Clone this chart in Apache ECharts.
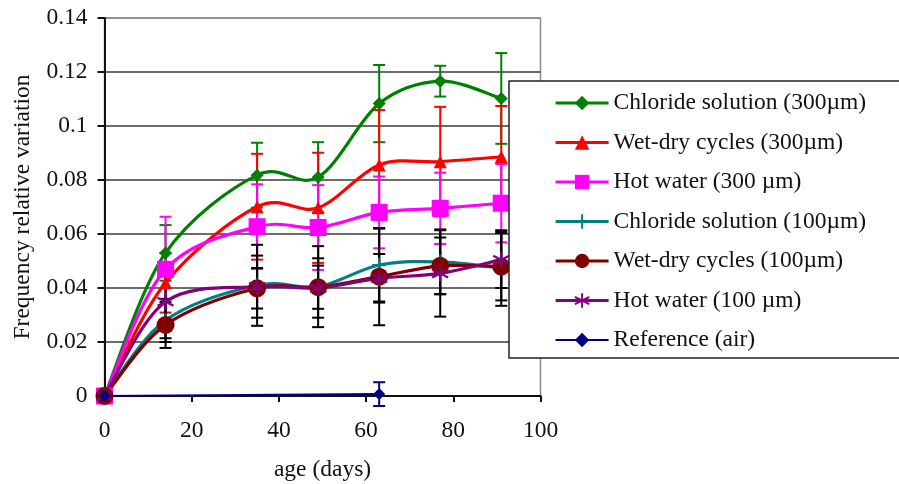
<!DOCTYPE html>
<html>
<head>
<meta charset="utf-8">
<script src="https://cdn.jsdelivr.net/npm/echarts@6.0.0/dist/echarts.min.js"></script>
<style>
  html, body { margin: 0; padding: 0; background: #fff; }
  #chart { width: 899px; height: 484px; }
</style>
</head>
<body>
<div id="chart"></div>
<script>
// Sample ages (days)
const days = [0, 14, 35, 49, 63, 77, 91];

// Mean frequency relative variation and error (±) for each exposure
const chloride300 = [0, 0.053, 0.0818, 0.081, 0.1083, 0.1166, 0.1102];
const chloride300Err = [0, 0.0103, 0.012, 0.013, 0.0143, 0.0057, 0.0168];

const wetDry300 = [0, 0.0419, 0.0701, 0.0697, 0.0856, 0.0868, 0.0886];
const wetDry300Err = [0, 0.011, 0.0196, 0.0204, 0.0203, 0.0203, 0.0188];

const hotWater300 = [0, 0.0469, 0.0627, 0.0624, 0.068, 0.0695, 0.0714];
const hotWater300Err = [0, 0.0195, 0.0157, 0.0157, 0.0133, 0.0132, 0.0145];

const chloride100 = [0, 0.028, 0.041, 0.0405, 0.0485, 0.0497, 0.0474];
const chloride100Err = [0, 0.008, 0.015, 0.015, 0.0135, 0.012, 0.014];

const wetDry100 = [0, 0.0263, 0.0399, 0.0403, 0.0442, 0.0482, 0.0479];
const wetDry100Err = [0, 0.0085, 0.0075, 0.008, 0.018, 0.0105, 0.0125];

const hotWater100 = [0, 0.0349, 0.0405, 0.04, 0.0436, 0.0454, 0.0505];
const hotWater100Err = [0, 0.0135, 0.0115, 0.011, 0.009, 0.016, 0.0105];

const refDays = [0, 63];
const reference = [0, 0.0007];
const referenceErr = [0, 0.0044];

const seriesNames = [
  'Chloride solution (300µm)',
  'Wet-dry cycles (300µm)',
  'Hot water (300 µm)',
  'Chloride solution (100µm)',
  'Wet-dry cycles (100µm)',
  'Hot water (100 µm)',
  'Reference (air)'
];

const xTicks = { min: 0, max: 100, interval: 20 };
const yTicks = { min: 0, max: 0.14, interval: 0.02 };

const FONT = 'Liberation Serif, Times New Roman, serif';
const ASTERISK = 'path://M0,-10L0,10M-8.66,-5L8.66,5M-8.66,5L8.66,-5';
const PLUS = 'path://M0,-10L0,10M-10,0L10,0';

const GREEN = '#008000', RED = '#ff0000', MAGENTA = '#ff00ff',
      TEAL = '#008080', MAROON = '#800000', PURPLE = '#800080', NAVY = '#000080';

function pairs(xs, ys) {
  return xs.map((x, i) => [x, ys[i]]);
}

// Markers only; the connecting curve is drawn by curveSeries
function markerSeries(name, xs, ys, color, symbol, size, strokeSymbol) {
  return {
    type: 'line',
    name: name,
    data: pairs(xs, ys),
    symbol: symbol,
    symbolSize: size,
    showAllSymbol: true,
    lineStyle: { color: color, width: 0, opacity: 0 },
    itemStyle: strokeSymbol
      ? { color: color, borderColor: color, borderWidth: 2.2 }
      : { color: color, borderWidth: 0 },
    emphasis: { disabled: true },
    z: 4
  };
}

// Smoothed connecting line (cardinal spline through the data points)
function curveSeries(xs, ys, color, width) {
  return {
    type: 'custom',
    data: [[xs[0], ys[0]]],
    silent: true,
    z: 3,
    renderItem: function (params, api) {
      const p = xs.map((x, i) => api.coord([x, ys[i]]));
      const n = p.length;
      let d = 'M' + p[0][0] + ',' + p[0][1];
      for (let i = 0; i < n - 1; i++) {
        const p0 = p[i - 1] || p[i];
        const p1 = p[i];
        const p2 = p[i + 1];
        const p3 = p[i + 2] || p[i + 1];
        const c1x = p1[0] + (p2[0] - p0[0]) / 6;
        const c1y = p1[1] + (p2[1] - p0[1]) / 6;
        const c2x = p2[0] - (p3[0] - p1[0]) / 6;
        const c2y = p2[1] - (p3[1] - p1[1]) / 6;
        d += 'C' + c1x + ',' + c1y + ' ' + c2x + ',' + c2y + ' ' + p2[0] + ',' + p2[1];
      }
      return {
        type: 'path',
        shape: { pathData: d },
        style: { fill: 'none', stroke: color, lineWidth: width, lineJoin: 'round', lineCap: 'round' }
      };
    }
  };
}

function errorSeries(xs, ys, errs, color) {
  const data = [];
  xs.forEach((x, i) => {
    if (errs[i] > 0) data.push([x, ys[i] - errs[i], ys[i] + errs[i]]);
  });
  return {
    type: 'custom',
    data: data,
    encode: { x: 0, y: [1, 2] },
    silent: true,
    z: 2,
    renderItem: function (params, api) {
      const lo = api.coord([api.value(0), api.value(1)]);
      const hi = api.coord([api.value(0), api.value(2)]);
      const w = 6;
      const st = { stroke: color, lineWidth: 2 };
      return {
        type: 'group',
        children: [
          { type: 'line', shape: { x1: lo[0], y1: lo[1], x2: hi[0], y2: hi[1] }, style: st },
          { type: 'line', shape: { x1: lo[0] - w, y1: lo[1], x2: lo[0] + w, y2: lo[1] }, style: st },
          { type: 'line', shape: { x1: hi[0] - w, y1: hi[1], x2: hi[0] + w, y2: hi[1] }, style: st }
        ]
      };
    }
  };
}

const legendColors = [GREEN, RED, MAGENTA, TEAL, MAROON, PURPLE, NAVY];
const legendWidths = [3.2, 3.2, 3.2, 3.2, 3.2, 3.2, 2];

const chart = echarts.init(document.getElementById('chart'), null, { renderer: 'canvas' });

const gridLineColors = ['#3a3a3a', '#3a3a3a', '#3a3a3a', '#3a3a3a', '#3a3a3a', '#3a3a3a', '#3a3a3a', '#8a8a8a'];

chart.setOption({
  animation: false,
  backgroundColor: '#ffffff',
  textStyle: { fontFamily: FONT },
  grid: {
    left: 104.5, right: 358.5, top: 18, bottom: 88,
    outerBoundsMode: 'none',
    containLabel: false,
    show: true, borderColor: '#8a8a8a', borderWidth: 1.5, backgroundColor: 'transparent'
  },
  // Legend frame, running off the right edge of the canvas
  graphic: [{
    type: 'rect',
    x: 509, y: 81,
    shape: { x: 0, y: 0, width: 440, height: 277 },
    style: { fill: '#ffffff', stroke: '#222', lineWidth: 1.5 },
    z: 9,
    silent: true
  }],
  xAxis: {
    type: 'value',
    min: xTicks.min, max: xTicks.max, interval: xTicks.interval,
    name: 'age (days)',
    nameLocation: 'middle',
    nameGap: 62,
    nameTextStyle: { fontFamily: FONT, fontSize: 23.5, color: '#111' },
    axisLine: { show: true, lineStyle: { color: '#111', width: 2 } },
    axisTick: { show: true, length: 6, lineStyle: { color: '#111', width: 2 } },
    axisLabel: { fontFamily: FONT, fontSize: 23.5, color: '#111', margin: 23 },
    splitLine: { show: false }
  },
  yAxis: {
    type: 'value',
    min: yTicks.min, max: yTicks.max, interval: yTicks.interval,
    name: 'Frequency relative variation',
    nameLocation: 'middle',
    nameGap: 70,
    nameTextStyle: { fontFamily: FONT, fontSize: 23.5, color: '#111' },
    axisLine: { show: true, lineStyle: { color: '#111', width: 2 } },
    axisTick: { show: true, length: 7, lineStyle: { color: '#111', width: 2 } },
    axisLabel: {
      fontFamily: FONT, fontSize: 23.5, color: '#111', margin: 17,
      formatter: v => (v === 0 ? '0' : String(+v.toFixed(2)))
    },
    splitLine: { show: true, lineStyle: { color: gridLineColors, width: 1.5 } }
  },
  legend: {
    data: seriesNames.map((name, i) => ({
      name: name,
      lineStyle: { color: legendColors[i], width: legendWidths[i], opacity: 1 }
    })),
    orient: 'vertical',
    left: 509, top: 82,
    padding: [8, 10, 5, 45],
    itemWidth: 53, itemHeight: 18, itemGap: 13.5,
    selectedMode: false,
    textStyle: { fontFamily: FONT, fontSize: 23.5, color: '#111', lineHeight: 26 },
    z: 10
  },
  series: [
    errorSeries(days, chloride300, chloride300Err, GREEN),
    errorSeries(days, wetDry300, wetDry300Err, RED),
    errorSeries(days, hotWater300, hotWater300Err, MAGENTA),
    errorSeries(days, chloride100, chloride100Err, '#000000'),
    errorSeries(days, wetDry100, wetDry100Err, '#000000'),
    errorSeries(days, hotWater100, hotWater100Err, '#000000'),
    errorSeries(refDays, reference, referenceErr, NAVY),
    curveSeries(days, chloride300, GREEN, 3.2),
    curveSeries(days, wetDry300, RED, 3.2),
    curveSeries(days, hotWater300, MAGENTA, 3.2),
    curveSeries(days, chloride100, TEAL, 3.2),
    curveSeries(days, wetDry100, MAROON, 3.2),
    curveSeries(days, hotWater100, PURPLE, 3.2),
    curveSeries(refDays, reference, NAVY, 2),
    markerSeries(seriesNames[0], days, chloride300, GREEN, 'diamond', 13),
    markerSeries(seriesNames[1], days, wetDry300, RED, 'triangle', 13),
    markerSeries(seriesNames[2], days, hotWater300, MAGENTA, 'rect', 17),
    markerSeries(seriesNames[3], days, chloride100, TEAL, PLUS, 14, true),
    markerSeries(seriesNames[4], days, wetDry100, MAROON, 'circle', 18),
    markerSeries(seriesNames[5], days, hotWater100, PURPLE, ASTERISK, 16, true),
    markerSeries(seriesNames[6], refDays, reference, NAVY, 'diamond', 12)
  ]
});
</script>
</body>
</html>
